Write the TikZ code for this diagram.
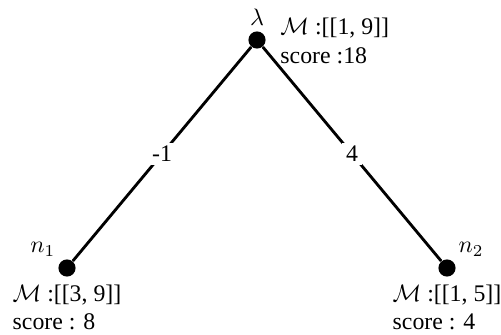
\documentclass[tikz,border=0pt]{standalone}
\usepackage{fontspec}
\setmainfont{Liberation Serif}
\usetikzlibrary{positioning}

\begin{document}
\begin{tikzpicture}[x=0.42pt,y=-0.42pt,
  dot/.style={circle,fill,inner sep=0pt,minimum size=7.2pt},
  info/.style={align=left,inner sep=0pt},
  edge/.style={line width=1.2pt},
  wt/.style={fill=white,inner sep=1.5pt},
  every label/.style={inner sep=2pt}]
\useasboundingbox (0,0) rectangle (501,335);
\node[dot,label=above:$\lambda$] (root) at(257,40){};
\node[dot,label=above left:$n_1$] (n1) at(67,268){};
\node[dot,label=above right:$n_2$] (n2) at(447,268){};
\draw[edge](root)--node[wt]{-1}(n1);
\draw[edge](root)--node[wt]{4}(n2);
\node[info,anchor=west] (rootinfo) at(280,41){$\mathcal{M}$ :[[1, 9]]\\score :18};
\node[info,below=3pt of n1] (n1info){$\mathcal{M}$ :[[3, 9]]\\score : 8};
\node[info,below=3pt of n2] (n2info){$\mathcal{M}$ :[[1, 5]]\\score : 4};
\end{tikzpicture}
\end{document}
